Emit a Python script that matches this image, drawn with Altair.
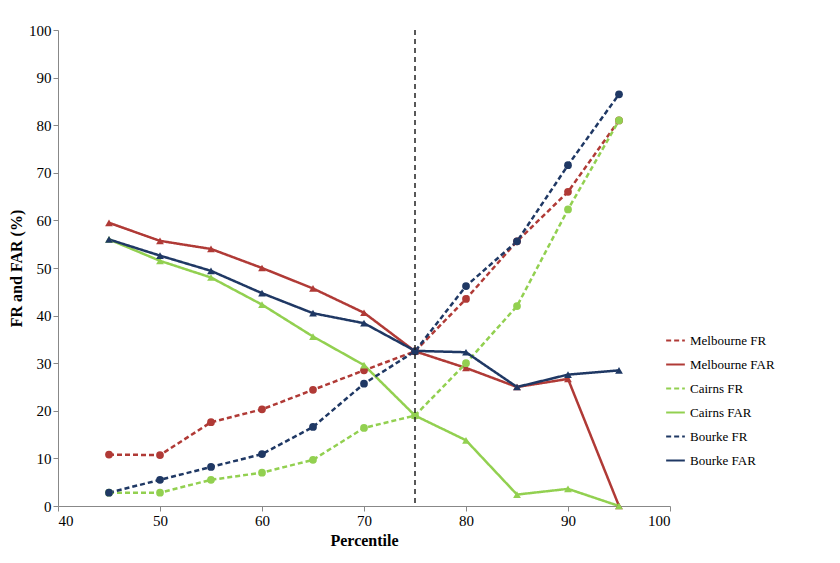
import pandas as pd
import altair as alt

pct = [45, 50, 55, 60, 65, 70, 75, 80, 85, 90, 95]
mel_fr = [10.8, 10.7, 17.6, 20.3, 24.4, 28.5, 32.5, 43.5, 55.6, 66.0, 81.0]
mel_far = [59.5, 55.7, 54.0, 50.0, 45.7, 40.6, 32.5, 29.0, 25.0, 26.7, 0.0]
cai_fr = [2.8, 2.8, 5.5, 7.0, 9.7, 16.4, 19.0, 30.0, 42.0, 62.3, 81.0]
cai_far = [56.0, 51.5, 48.0, 42.3, 35.6, 29.6, 19.0, 13.8, 2.4, 3.6, 0.0]
bou_fr = [2.8, 5.5, 8.2, 10.9, 16.6, 25.7, 32.5, 46.2, 55.6, 71.6, 86.5]
bou_far = [56.0, 52.6, 49.4, 44.7, 40.5, 38.4, 32.6, 32.3, 25.0, 27.6, 28.5]

names = ["Melbourne FR", "Melbourne FAR", "Cairns FR", "Cairns FAR", "Bourke FR", "Bourke FAR"]
series = [mel_fr, mel_far, cai_fr, cai_far, bou_fr, bou_far]
colors = ["#b03a36", "#b03a36", "#92d050", "#92d050", "#1f3864", "#1f3864"]
dashes = [[5, 3], [1, 0], [5, 3], [1, 0], [5, 3], [1, 0]]
shapes = ["circle", "triangle-up"] * 3

rows = []
for n, vals in zip(names, series):
    for p, v in zip(pct, vals):
        rows.append({"Percentile": p, "value": v, "series": n})
df = pd.DataFrame(rows)

leg = alt.Legend(title=None, labelFont="Liberation Serif", labelFontSize=13,
                 symbolSize=350, symbolStrokeWidth=2, orient="none", legendX=607, legendY=300,
                 labelLimit=200, symbolType="stroke", rowPadding=6)

axis_style = dict(grid=False, labelFont="Liberation Serif", labelFontSize=15,
                  titleFont="Liberation Serif", titleFontSize=16, titleFontWeight="bold",
                  domainColor="#888", tickColor="#888", labelColor="#000", titleColor="#000")

lines = alt.Chart(df).mark_line(strokeWidth=2.5).encode(
    x=alt.X("Percentile:Q", scale=alt.Scale(domain=[40, 100]), title="Percentile",
            axis=alt.Axis(values=list(range(40, 101, 10)), **axis_style)),
    y=alt.Y("value:Q", scale=alt.Scale(domain=[0, 100]), title="FR and FAR (%)",
            axis=alt.Axis(values=list(range(0, 101, 10)), **axis_style)),
    color=alt.Color("series:N", sort=names, scale=alt.Scale(domain=names, range=colors), legend=leg),
    strokeDash=alt.StrokeDash("series:N", sort=names, scale=alt.Scale(domain=names, range=dashes), legend=leg),
)

# markers drawn per series with fixed styles so they stay out of the legend
pt_layers = []
for n, c, s in zip(names, colors, shapes):
    pt_layers.append(
        alt.Chart(df).transform_filter(alt.datum.series == n)
        .mark_point(filled=True, size=60, opacity=1, color=c, shape=s)
        .encode(x="Percentile:Q", y="value:Q")
    )

vline = alt.Chart(pd.DataFrame({"x": [75]})).mark_rule(color="#222", strokeDash=[5, 4], strokeWidth=1.5).encode(x="x:Q")

chart = alt.layer(lines, *pt_layers, vline).properties(
    width=612, height=476, padding={"left": 0, "top": 15, "right": 5, "bottom": 5}
).configure_view(stroke=None)

chart.save("out.html", embed_options={"renderer": "svg", "actions": False})
